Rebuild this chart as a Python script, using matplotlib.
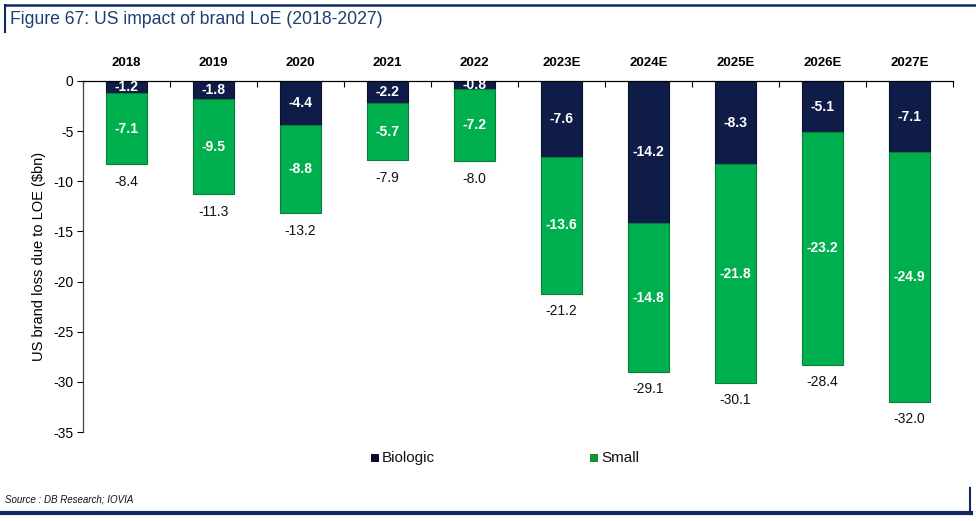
import matplotlib
matplotlib.use("Agg")
import matplotlib.pyplot as plt
from matplotlib.lines import Line2D
from matplotlib.patches import Rectangle

plt.rcParams['font.family'] = ['Liberation Sans', 'DejaVu Sans']

years = ['2018', '2019', '2020', '2021', '2022', '2023E', '2024E', '2025E', '2026E', '2027E']
biologic = [-1.2, -1.8, -4.4, -2.2, -0.8, -7.6, -14.2, -8.3, -5.1, -7.1]
small = [-7.1, -9.5, -8.8, -5.7, -7.2, -13.6, -14.8, -21.8, -23.2, -24.9]
totals = [-8.4, -11.3, -13.2, -7.9, -8.0, -21.2, -29.1, -30.1, -28.4, -32.0]
yticks = [0, -5, -10, -15, -20, -25, -30, -35]
series_names = ['Biologic', 'Small']

navy = '#0f1c48'
green = '#00b04f'
title_color = '#1d3f73'
frame_color = '#0f2a5e'

fig = plt.figure(figsize=(9.76, 5.21), dpi=100)
ax = fig.add_axes([83/976, 1-432/521, (953-83)/976, (432-81)/521])

x = list(range(len(years)))
w = 0.46
ax.bar(x, biologic, width=w, color=navy, edgecolor='#0a1230', linewidth=0.8, zorder=2)
ax.bar(x, small, width=w, bottom=biologic, color=green, edgecolor='#0b7d35', linewidth=0.8, zorder=2)

for i in x:
    ax.text(i, biologic[i]/2, f'{biologic[i]:.1f}', ha='center', va='center',
            color='white', fontsize=10, fontweight='bold', zorder=3)
    ax.text(i, biologic[i] + small[i]/2, f'{small[i]:.1f}', ha='center', va='center',
            color='white', fontsize=10, fontweight='bold', zorder=3)
    ax.annotate(f'{totals[i]:.1f}', xy=(i, biologic[i] + small[i]), xytext=(0, -12.5),
                textcoords='offset points', ha='center', va='center', fontsize=10, color='#111111')

ax.set_xlim(-0.5, len(years) - 0.5)
ax.set_ylim(-35, 0)
ax.set_yticks(yticks)
ax.set_yticklabels([str(t) for t in yticks], fontsize=10)
ax.tick_params(axis='y', direction='out', length=4, width=0.8, pad=3)

ax.spines['right'].set_visible(False)
ax.spines['bottom'].set_visible(False)
ax.spines['top'].set_linewidth(0.9)
ax.spines['left'].set_linewidth(0.9)
ax.spines['left'].set_color('#444444')
ax.xaxis.set_ticks_position('top')
ax.set_xticks([i + 0.5 for i in range(-1, len(years))])
ax.set_xticklabels([''] * (len(years) + 1))
ax.tick_params(axis='x', direction='in', length=4, width=0.8)
for i, y in enumerate(years):
    ax.annotate(y, xy=(i, 0), xytext=(0, 13), textcoords='offset points',
                ha='center', va='center', fontsize=9.5, fontweight='bold', annotation_clip=False)

ax.set_ylabel('US brand loss due to LOE ($bn)', fontsize=10.5, labelpad=5)

# legend drawn manually
leg_y = 1 - 458/521
sq = 8
for name, col, x0 in [(series_names[0], '#0b0b2e', 371), (series_names[1], '#17903a', 590)]:
    fig.add_artist(Rectangle((x0/976, leg_y - sq/2/521), sq/976, sq/521,
                             facecolor=col, edgecolor='none', transform=fig.transFigure))
    fig.text((x0 + sq + 3)/976, leg_y, name, fontsize=11, va='center', ha='left', color='#111111')

# title and frame
fig.text(10/976, 1-20/521, 'Figure 67: US impact of brand LoE (2018-2027)', fontsize=12.7,
         color=title_color, va='center', ha='left')
fig.add_artist(Line2D([5/976, 1.0], [1-5/521, 1-5/521], color=frame_color, lw=1.8))
fig.add_artist(Line2D([5/976, 5/976], [1-5/521, 1-32/521], color=frame_color, lw=1.5))
fig.add_artist(Line2D([2/976, 971/976], [1-513/521, 1-513/521], color=frame_color, lw=3))
fig.add_artist(Line2D([970/976, 970/976], [1-488/521, 1-513/521], color=frame_color, lw=1.5))

fig.text(5/976, 1-500/521, 'Source : DB Research; IOVIA', fontsize=7, style='italic',
         va='center', ha='left', color='#111111')

fig.savefig('out.png', dpi=100)
